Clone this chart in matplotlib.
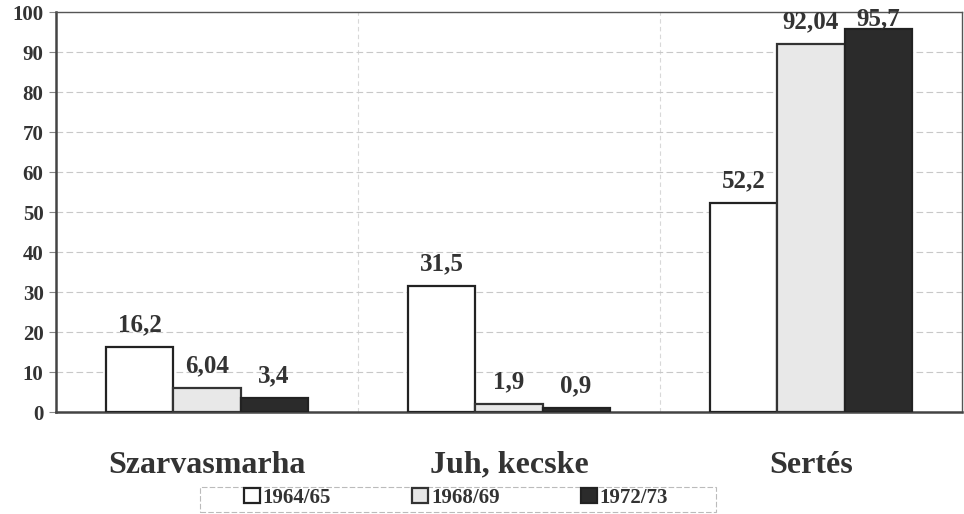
import matplotlib.pyplot as plt
import matplotlib.patches as mpatches
import numpy as np

# data
categories = ['Szarvasmarha', 'Juh, kecske', 'Sertés']
years = ['1964/65', '1968/69', '1972/73']
v_1964 = [16.2, 31.5, 52.2]
v_1968 = [6.04, 1.9, 92.04]
v_1972 = [3.4, 0.9, 95.7]
labels_1964 = ['16,2', '31,5', '52,2']
labels_1968 = ['6,04', '1,9', '92,04']
labels_1972 = ['3,4', '0,9', '95,7']

plt.rcParams['font.family'] = ['Liberation Serif', 'DejaVu Serif']
plt.rcParams['font.weight'] = 'bold'

fig = plt.figure(figsize=(9.64, 5.14), dpi=100)
ax = fig.add_axes([56 / 964, 1 - 412 / 514, 906 / 964, 400 / 514])

x = np.arange(len(categories))
w = 0.222
series = [
    (v_1964, labels_1964, 'white', '#222222'),
    (v_1968, labels_1968, '#e8e8e8', '#333333'),
    (v_1972, labels_1972, '#2b2b2b', '#222222'),
]
for i, (vals, labs, fc, ec) in enumerate(series):
    pos = x + (i - 1) * w
    ax.bar(pos, vals, width=w, color=fc, edgecolor=ec, linewidth=1.6,
           label=years[i], zorder=3)
    for p, v, t in zip(pos, vals, labs):
        # labels near the top get pushed down to stay inside the frame
        ax.text(p, min(v + 4.0, 96.6), t, ha='center', va='baseline', fontsize=18,
                fontweight='bold', color='#333333', zorder=4)

ax.set_xlim(-0.5, 2.5)
ax.set_ylim(0, 100)
ax.set_yticks(range(0, 101, 10))
ax.set_yticklabels([str(t) for t in range(0, 101, 10)], fontsize=15,
                   fontweight='bold', color='#333333')
ax.tick_params(axis='y', length=5, width=0.8, color='#888888', pad=4)
ax.set_xticks(x)
ax.set_xticklabels(categories, fontsize=23, fontweight='bold', color='#333333')
ax.tick_params(axis='x', length=0, pad=28)

ax.yaxis.grid(True, linestyle=(0, (6, 3)), color='#c8c8c8', linewidth=0.8, zorder=0)
for b in [0.5, 1.5]:
    ax.axvline(b, linestyle=(0, (4, 3)), color='#d8d8d8', linewidth=0.8, zorder=0)

for s in ['left', 'bottom']:
    ax.spines[s].set_linewidth(1.8)
    ax.spines[s].set_color('#444444')
for s in ['top', 'right']:
    ax.spines[s].set_linewidth(1.0)
    ax.spines[s].set_color('#555555')

# legend frame drawn separately (wide and flat, as in the original)
box = mpatches.Rectangle((200 / 964, 1 - 512 / 514), 516 / 964, 25 / 514,
                         transform=fig.transFigure, fill=False,
                         edgecolor='#bbbbbb', linewidth=0.8, linestyle=(0, (5, 2)))
fig.patches.append(box)
leg = fig.legend(loc='center', bbox_to_anchor=(456 / 964, 1 - 498 / 514),
                 ncol=3, frameon=False,
                 handlelength=0.75, handleheight=0.75, handletextpad=0.15,
                 columnspacing=3.9, borderpad=0.0,
                 prop={'weight': 'bold', 'size': 15})
for t in leg.get_texts():
    t.set_color('#333333')

fig.savefig('out.png', dpi=100)
